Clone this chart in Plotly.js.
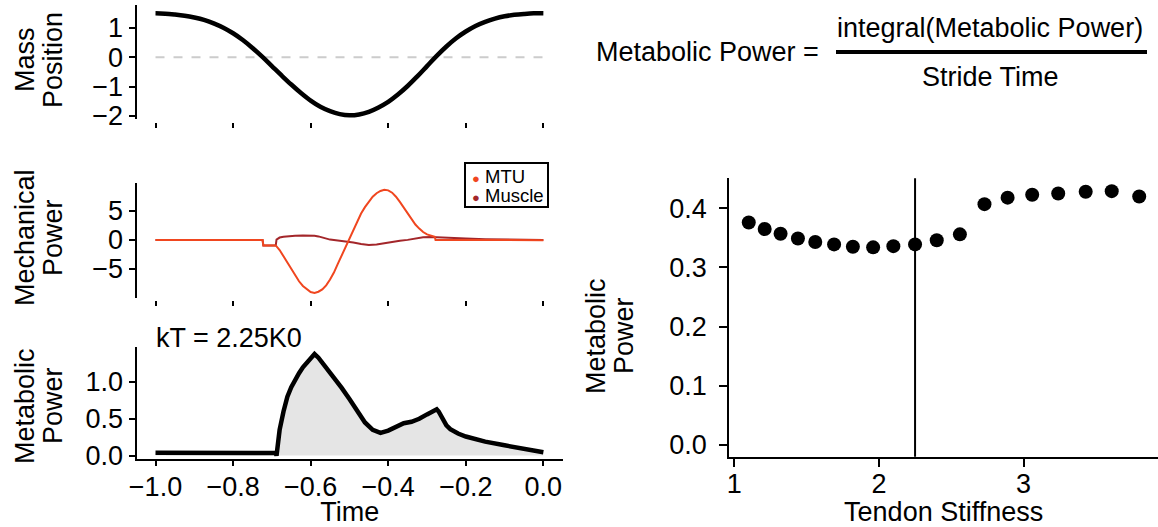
<!DOCTYPE html>
<html>
<head>
<meta charset="utf-8">
<script src="https://cdn.plot.ly/plotly-3.0.1.min.js"></script>
<style>
html,body{margin:0;padding:0;background:#fff;}
#chart{width:1158px;height:527px;}
</style>
</head>
<body>
<div id="chart"></div>
<script>
// ---------- data ----------
const posTime = [-1.0, -0.975, -0.95, -0.925, -0.9, -0.875, -0.85, -0.825, -0.8, -0.775, -0.75, -0.725, -0.7, -0.675, -0.65, -0.625, -0.6, -0.575, -0.55, -0.525, -0.5, -0.475, -0.45, -0.425, -0.4, -0.375, -0.35, -0.325, -0.3, -0.275, -0.25, -0.225, -0.2, -0.175, -0.15, -0.125, -0.1, -0.075, -0.05, -0.025, 0.0];
const massPosition = [1.5, 1.49, 1.46, 1.42, 1.36, 1.28, 1.16, 1.01, 0.82, 0.59, 0.32, 0.02, -0.3, -0.62, -0.93, -1.22, -1.48, -1.69, -1.84, -1.94, -1.98, -1.95, -1.86, -1.71, -1.52, -1.27, -0.98, -0.65, -0.3, 0.05, 0.37, 0.65, 0.88, 1.07, 1.21, 1.32, 1.40, 1.45, 1.48, 1.5, 1.5];

const mtuTime = [-1.0, -0.9, -0.8, -0.724, -0.722, -0.69, -0.68, -0.67, -0.66, -0.65, -0.64, -0.63, -0.62, -0.61, -0.60, -0.59, -0.58, -0.57, -0.56, -0.55, -0.54, -0.53, -0.52, -0.51, -0.50, -0.49, -0.48, -0.47, -0.46, -0.45, -0.44, -0.43, -0.42, -0.41, -0.40, -0.39, -0.38, -0.37, -0.36, -0.35, -0.34, -0.33, -0.32, -0.31, -0.30, -0.29, -0.28, -0.278, -0.2, -0.1, 0.0];
const mtuPower = [-0.05, -0.05, -0.05, -0.05, -1.0, -1.0, -1.8, -2.9, -4.0, -5.1, -6.2, -7.2, -8.0, -8.6, -9.05, -9.2, -9.0, -8.6, -7.9, -6.9, -5.7, -4.2, -2.7, -1.2, 0.3, 1.8, 3.2, 4.5, 5.6, 6.6, 7.4, 8.0, 8.4, 8.6, 8.5, 8.1, 7.4, 6.5, 5.5, 4.5, 3.5, 2.6, 1.9, 1.3, 0.9, 0.65, 0.5, -0.05, -0.05, -0.08, -0.1];

const muscleTime = [-1.0, -0.9, -0.8, -0.724, -0.722, -0.69, -0.688, -0.68, -0.67, -0.66, -0.64, -0.62, -0.60, -0.59, -0.58, -0.57, -0.56, -0.55, -0.53, -0.51, -0.49, -0.47, -0.45, -0.43, -0.41, -0.39, -0.37, -0.35, -0.33, -0.31, -0.29, -0.27, -0.25, -0.2, -0.15, -0.1, -0.05, 0.0];
const musclePower = [-0.05, -0.05, -0.05, -0.05, -1.0, -1.0, 0.0, 0.35, 0.5, 0.6, 0.68, 0.7, 0.7, 0.68, 0.55, 0.35, 0.12, 0.0, -0.15, -0.3, -0.5, -0.75, -0.95, -0.85, -0.6, -0.35, -0.2, -0.05, 0.2, 0.4, 0.45, 0.42, 0.35, 0.2, 0.08, 0.0, -0.05, -0.08];

const metTime = [-1.0, -0.9, -0.8, -0.72, -0.718, -0.69, -0.688, -0.68, -0.67, -0.66, -0.65, -0.64, -0.63, -0.62, -0.61, -0.60, -0.59, -0.58, -0.56, -0.54, -0.52, -0.50, -0.48, -0.46, -0.44, -0.42, -0.40, -0.38, -0.36, -0.34, -0.32, -0.30, -0.28, -0.275, -0.27, -0.26, -0.25, -0.24, -0.22, -0.20, -0.15, -0.10, -0.05, 0.0];
const metPower = [0.04, 0.035, 0.03, 0.025, 0.035, 0.035, 0.0, 0.35, 0.6, 0.8, 0.93, 1.04, 1.12, 1.2, 1.26, 1.31, 1.38, 1.33, 1.2, 1.06, 0.92, 0.77, 0.61, 0.45, 0.35, 0.31, 0.34, 0.39, 0.44, 0.46, 0.5, 0.56, 0.62, 0.63, 0.6, 0.49, 0.41, 0.36, 0.3, 0.26, 0.19, 0.14, 0.09, 0.045];

const tendonStiffness = [1.10, 1.21, 1.32, 1.44, 1.56, 1.69, 1.82, 1.96, 2.10, 2.25, 2.40, 2.56, 2.73, 2.89, 3.06, 3.24, 3.43, 3.61, 3.80];
const metabolicAvg = [0.376, 0.365, 0.357, 0.349, 0.343, 0.339, 0.335, 0.334, 0.336, 0.339, 0.346, 0.356, 0.407, 0.418, 0.423, 0.425, 0.428, 0.429, 0.420];
const kT = 2.25;

const timeTicks = [-1.0, -0.8, -0.6, -0.4, -0.2, 0.0];
const posTicks = [-2, -1, 0, 1];
const mechTicks = [-5, 0, 5];
const metTicks = [0.0, 0.5, 1.0];
const stiffTicks = [1, 2, 3];
const avgTicks = [0.0, 0.1, 0.2, 0.3, 0.4];
const legendNames = ['MTU', 'Muscle'];

const MTU_COLOR = '#f0461f';
const MUSCLE_COLOR = '#a3262a';

// ---------- helpers ----------
const W = 1158, H = 527;
const px = v => v / W;
const py = v => 1 - v / H;
const FONT = 'Liberation Sans, Arial, sans-serif';
const FS = 27;

const traces = [
  {x: posTime, y: massPosition, xaxis: 'x3', yaxis: 'y3', mode: 'lines', type: 'scatter',
   line: {color: 'black', width: 4.5, shape: 'spline', smoothing: 1}, showlegend: false},
  {x: muscleTime, y: musclePower, xaxis: 'x2', yaxis: 'y2', mode: 'lines', type: 'scatter', name: 'Muscle',
   line: {color: MUSCLE_COLOR, width: 2}, showlegend: false},
  {x: mtuTime, y: mtuPower, xaxis: 'x2', yaxis: 'y2', mode: 'lines', type: 'scatter', name: 'MTU',
   line: {color: MTU_COLOR, width: 2}, showlegend: false},
  {x: metTime, y: metPower, xaxis: 'x', yaxis: 'y', mode: 'lines', type: 'scatter', fill: 'tozeroy',
   fillcolor: '#e5e5e5', line: {color: 'black', width: 4.5}, showlegend: false},
  {x: tendonStiffness, y: metabolicAvg, xaxis: 'x4', yaxis: 'y4', mode: 'markers', type: 'scatter',
   marker: {color: 'black', size: 14}, showlegend: false}
];

const baseAxis = {
  showgrid: false, zeroline: false, color: 'black', linecolor: 'black', tickcolor: 'black',
  linewidth: 2, tickwidth: 2, ticks: 'outside', fixedrange: true,
  tickfont: {family: FONT, size: FS, color: 'black'}
};
const leftDomain = [px(136.5), px(563)];
const timeRange = [-1.049, 0.0506];

const legendColors = [MTU_COLOR, MUSCLE_COLOR];
const legendY = [176.5, 195];
const legendAnnots = legendNames.map((n, i) => ({
  text: '<span style="color:' + legendColors[i] + ';font-size:13px">\u25CF</span> ' + n,
  x: px(470), y: py(legendY[i]), xanchor: 'left', font: {family: FONT, size: 18.5, color: 'black'}
}));

const layout = {
  width: W, height: H,
  margin: {l: 0, r: 0, t: 0, b: 0},
  paper_bgcolor: 'white', plot_bgcolor: 'rgba(0,0,0,0)',
  font: {family: FONT, size: FS, color: 'black'},
  showlegend: false,
  // bottom-left: metabolic power vs time
  xaxis: Object.assign({}, baseAxis, {domain: leftDomain, range: timeRange, anchor: 'y',
    tickvals: timeTicks, tickformat: '.1f', ticklen: 5, showline: true, ticklabelstandoff: -3,
    title: {text: 'Time', font: {family: FONT, size: FS}, standoff: 0}}),
  yaxis: Object.assign({}, baseAxis, {domain: [py(459.3), py(346.7)], range: [-0.05, 1.48], anchor: 'x',
    tickvals: metTicks, tickformat: '.1f', ticklen: 6, showline: true}),
  // middle-left: mechanical power
  xaxis2: Object.assign({}, baseAxis, {domain: leftDomain, range: timeRange, anchor: 'free', position: py(300),
    tickvals: timeTicks, showticklabels: false, ticklen: 5, showline: false}),
  yaxis2: Object.assign({}, baseAxis, {domain: [py(297.5), py(183.3)], range: [-10, 9.72], anchor: 'x2',
    tickvals: mechTicks, ticklen: 6, showline: true}),
  // top-left: mass position
  xaxis3: Object.assign({}, baseAxis, {domain: leftDomain, range: timeRange, anchor: 'free', position: py(121.5),
    tickvals: timeTicks, showticklabels: false, ticklen: 5, showline: false}),
  yaxis3: Object.assign({}, baseAxis, {domain: [py(118.5), py(5)], range: [-2.089, 1.785], anchor: 'x3',
    tickvals: posTicks, ticklen: 6, showline: true}),
  // right: metabolic power vs tendon stiffness
  xaxis4: Object.assign({}, baseAxis, {domain: [px(729.3), 1], range: [0.9654, 3.93], anchor: 'y4',
    tickvals: stiffTicks, ticklen: 8, showline: true, ticklabelstandoff: -6,
    title: {text: 'Tendon Stiffness', font: {family: FONT, size: FS}, standoff: 3}}),
  yaxis4: Object.assign({}, baseAxis, {domain: [py(456.7), py(178.3)], range: [-0.0198, 0.4507], anchor: 'x4',
    tickvals: avgTicks, tickformat: '.1f', ticklen: 8, showline: true, ticklabelstandoff: 7}),
  shapes: [
    {type: 'line', xref: 'x3', yref: 'y3', x0: timeTicks[0], x1: timeTicks[timeTicks.length - 1], y0: 0, y1: 0,
     line: {color: '#cccccc', width: 2, dash: 'dash'}, layer: 'below'},
    {type: 'line', xref: 'x4', yref: 'y4 domain', x0: kT, x1: kT, y0: 0, y1: 1,
     line: {color: 'black', width: 2}},
    {type: 'line', xref: 'paper', yref: 'paper', x0: px(836), x1: px(1147), y0: py(52), y1: py(52),
     line: {color: 'black', width: 4}},
    {type: 'rect', xref: 'paper', yref: 'paper', x0: px(465), x1: px(548), y0: py(207), y1: py(163),
     line: {color: 'black', width: 2}, fillcolor: 'white'}
  ],
  annotations: [
    {text: 'Mass', x: px(25), y: py(60), textangle: -90},
    {text: 'Position', x: px(53), y: py(60), textangle: -90},
    {text: 'Mechanical', x: px(25), y: py(238), textangle: -90},
    {text: 'Power', x: px(53), y: py(238), textangle: -90},
    {text: 'Metabolic', x: px(25), y: py(406), textangle: -90},
    {text: 'Power', x: px(53), y: py(406), textangle: -90},
    {text: 'Metabolic', x: px(596), y: py(336), textangle: -90},
    {text: 'Power', x: px(624), y: py(336), textangle: -90},
    {text: 'kT = 2.25K0', x: px(154), y: py(338), xanchor: 'left'},
    {text: 'Metabolic Power =', x: px(594), y: py(52), xanchor: 'left'},
    {text: 'integral(Metabolic Power)', x: px(990), y: py(28)},
    {text: 'Stride Time', x: px(990), y: py(77)}
  ].concat(legendAnnots).map(a => Object.assign({xref: 'paper', yref: 'paper', showarrow: false, xanchor: 'center', yanchor: 'middle',
    font: {family: FONT, size: FS, color: 'black'}}, a))
};

Plotly.newPlot('chart', traces, layout, {displayModeBar: false, staticPlot: true});
</script>
</body>
</html>
